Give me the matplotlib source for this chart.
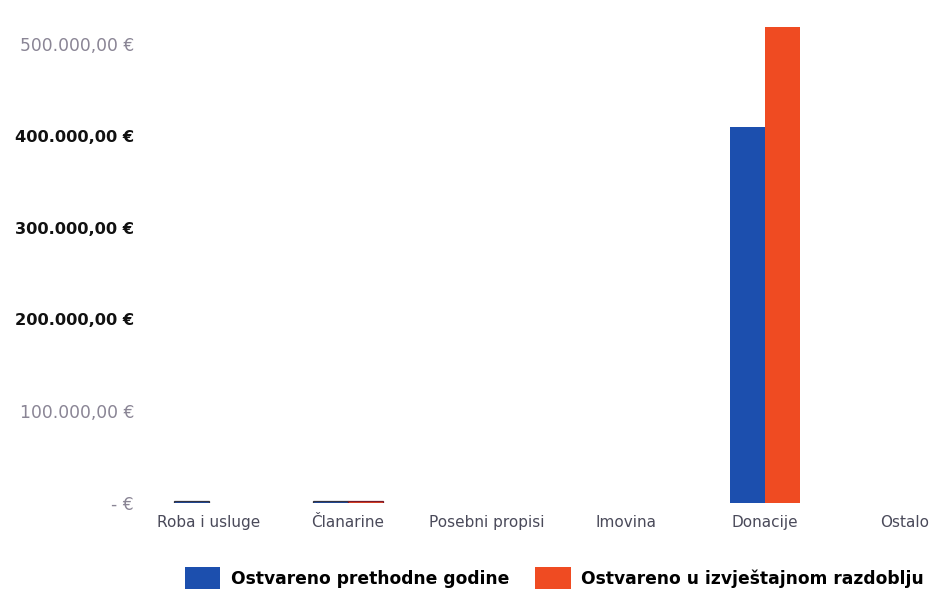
"""Prihodi po izvorima: prethodna godina vs izvještajno razdoblje."""
import matplotlib
matplotlib.use("Agg")
import matplotlib.pyplot as plt
import numpy as np
from matplotlib.patches import Patch

matplotlib.rcParams["font.family"] = ["DejaVu Sans"]

# ── Data ───────────────────────────────────────────────────────────
categories = ["Roba i usluge", "Članarine", "Posebni propisi", "Imovina", "Donacije", "Ostalo"]
prethodna = [2000, 2000, 0, 0, 410000, 0]
razdoblje = [0, 2500, 0, 0, 519000, 0]
series_names = ["Ostvareno prethodne godine", "Ostvareno u izvještajnom razdoblju"]
y_ticks = [0, 100000, 200000, 300000, 400000, 500000]

BLUE = "#1c4fae"
ORANGE = "#ef4b22"


def eur(v):
    if v == 0:
        return "- €"
    s = f"{v:,.2f}".replace(",", "X").replace(".", ",").replace("X", ".")
    return f"{s} €"


fig = plt.figure(figsize=(9.39, 5.99), dpi=100)
ax = fig.add_axes([0.1486, 0.1603, 0.8514, 0.8275])

x = np.arange(len(categories))
w = 0.25
# tiny bars show up as dark lines in the scan; zero bars draw nothing
lw_b = [0.9 if 0 < v < 10000 else 0 for v in prethodna]
lw_o = [0.9 if 0 < v < 10000 else 0 for v in razdoblje]
ax.bar(x - w / 2, prethodna, width=w, color=BLUE, edgecolor="#333340", linewidth=lw_b)
ax.bar(x + w / 2, razdoblje, width=w, color=ORANGE, edgecolor="#7a1a2a", linewidth=lw_o)

ax.set_xlim(-0.5, 5.25)
ax.set_ylim(0, 540000)

ax.set_yticks(y_ticks)
ax.set_yticklabels([eur(v) for v in y_ticks])
# scanned original: some tick labels came out bold/dark, others faint
styles = {0: ("#8a8595", "normal"), 100000: ("#8a8595", "normal"),
          200000: ("#111111", "bold"), 300000: ("#111111", "bold"),
          400000: ("#111111", "bold"), 500000: ("#8a8595", "normal")}
for lbl, v in zip(ax.get_yticklabels(), y_ticks):
    c, fw = styles[v]
    lbl.set_color(c)
    lbl.set_fontweight(fw)
    lbl.set_fontsize(12.3 if fw == "normal" else 11.7)

ax.set_xticks(x)
ax.set_xticklabels(categories, fontsize=11, color="#4a4a5a")
ax.tick_params(axis="both", length=0)
ax.tick_params(axis="x", pad=9)
ax.tick_params(axis="y", pad=4)
for sp in ax.spines.values():
    sp.set_visible(False)

handles = [Patch(facecolor=BLUE), Patch(facecolor=ORANGE)]
leg = fig.legend(handles, series_names, loc="center", bbox_to_anchor=(0.59, 0.035),
                 ncol=2, frameon=False, handlelength=2.1, handleheight=1.6,
                 columnspacing=1.5, handletextpad=0.6,
                 prop={"weight": "bold", "size": 12.3})

fig.savefig("out.png", dpi=100)
